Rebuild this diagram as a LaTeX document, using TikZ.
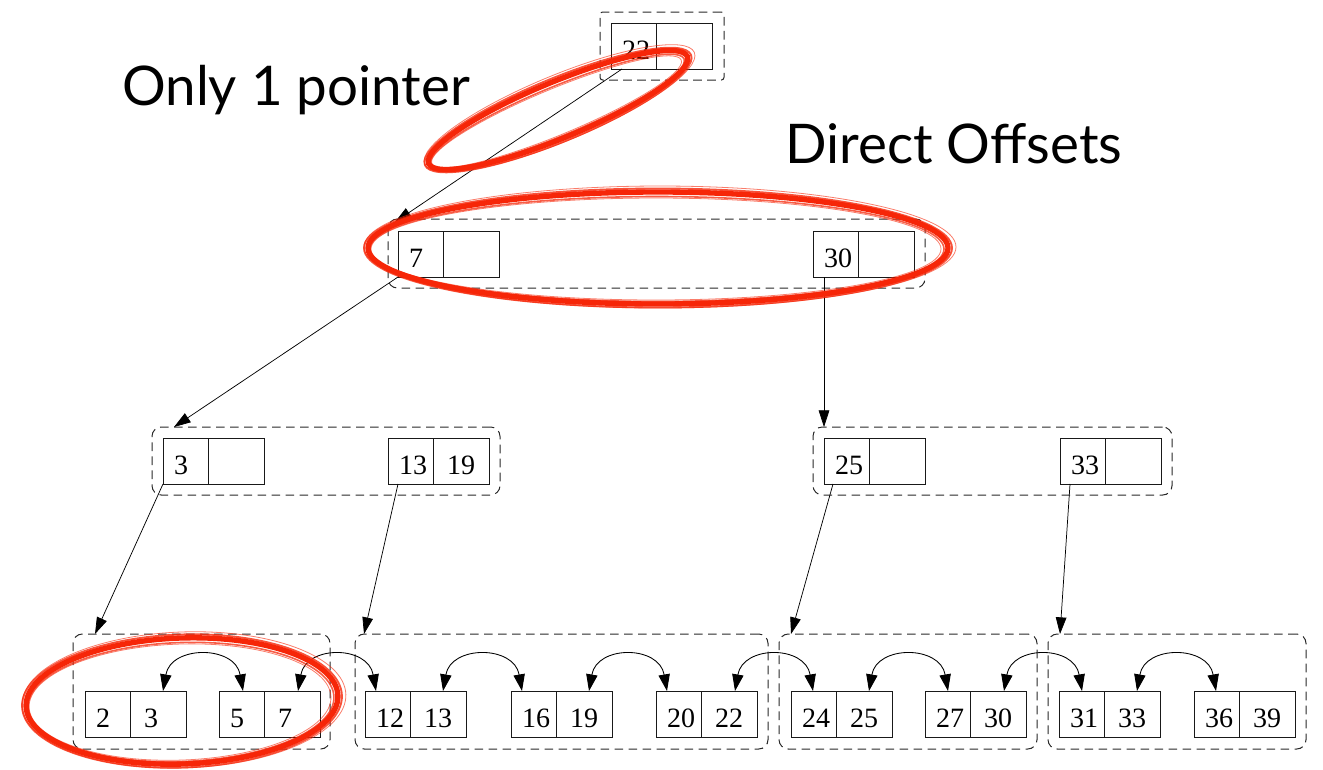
\documentclass[tikz,border=0pt]{standalone}
\usepackage{fontspec}
\setmainfont{Liberation Serif}
\newfontfamily\labelfont{Lato}
\usetikzlibrary{arrows.meta}
\definecolor{brushred}{RGB}{246,38,8}
\definecolor{dashgray}{RGB}{40,40,40}
\tikzset{
  keybox/.style={draw=black!90, line width=0.7pt, minimum width=75.75pt, minimum height=34.5pt, inner sep=0pt, outer sep=0pt, anchor=north west},
  cellsep/.style={draw=black!90, line width=0.7pt},
  keynum/.style={anchor=base west, inner sep=0pt, outer sep=0pt, font=\fontsize{21}{21}\selectfont},
  grpbox/.style={draw=dashgray, line width=0.75pt, dash pattern=on 6.5pt off 4pt, rounded corners=7pt, inner sep=0pt, outer sep=0pt, anchor=north west},
  tree/.style={draw=black, line width=0.55pt, -{Triangle[length=12.5pt,width=8pt]}},
  link/.style={draw=black, line width=0.65pt, {Triangle[length=12.5pt,width=8.5pt]}-{Triangle[length=12.5pt,width=8.5pt]}},
  biglabel/.style={anchor=base west, inner sep=0pt, font=\labelfont\fontsize{41}{41}\selectfont},
  brush/.style={draw=brushred, line cap=round},
}
\newcommand{\mykey}[5]{%
  \node[keybox] (#1) at (#2,#3) {};
  \draw[cellsep] ([xshift=33.75pt]#1.north west) -- ([xshift=33.75pt]#1.south west);
  \node[keynum] (#1L) at ([shift={(11,36)}]#1.north west) {#4};
  \node[keynum] (#1R) at ([shift={(59,36)}]#1.north west) {#5};
}
\newcommand{\mygroup}[6][]{%
  \node[grpbox, #1, minimum width={(#5-#3)*0.75pt}, minimum height={(#6-#4)*0.75pt}] (#2) at (#3,#4) {};
}
\newcommand{\brushellipse}[5]{%
  \begin{scope}[shift={(#1,#2)}, rotate=#5]
    \draw[brush, line width=4pt] (0,0) ellipse [x radius=#3, y radius=#4];
    \draw[brush, line width=1.4pt, opacity=.8] (0,0) ellipse [x radius=#3+4, y radius=#4+3.5];
    \draw[brush, line width=1.2pt, opacity=.75] (-1,1) ellipse [x radius=#3-3, y radius=#4-3.5];
    \draw[brush, line width=0.6pt, opacity=.6] (2,-1) ellipse [x radius=#3+6, y radius=#4+5];
    \draw[brush, line width=0.6pt, opacity=.6] (-2,1) ellipse [x radius=#3-5, y radius=#4-5];
  \end{scope}
}
\begin{document}
\begin{tikzpicture}[x=0.75pt,y=-0.75pt]
\useasboundingbox (0,0) rectangle (1323,769);

% groups
\mygroup[rounded corners=2pt]{gTop}{600}{12}{724}{80}
\mygroup{gL2}{388}{219}{925}{288}
\mygroup{gA}{152}{427}{500}{495}
\mygroup{gB}{813}{427}{1172}{495}
\mygroup{g1}{73}{634}{330}{749}
\mygroup{g2}{355}{634}{768}{749}
\mygroup{g3}{779}{634}{1037}{749}
\mygroup{g4}{1048}{634}{1306}{749}

% keys
\mykey{t22}{611}{23}{22}{}
\mykey{k7}{398}{231}{7}{}
\mykey{k30}{813}{231}{30}{}
\mykey{k3}{163}{438}{3}{}
\mykey{k13}{388}{438}{13}{19}
\mykey{k25}{824}{438}{25}{}
\mykey{k33}{1060}{438}{33}{}
\mykey{l2}{85}{691}{2}{3}
\mykey{l5}{219}{691}{5}{7}
\mykey{l12}{365}{691}{12}{13}
\mykey{l16}{511}{691}{16}{19}
\mykey{l20}{656}{691}{20}{22}
\mykey{l24}{791}{691}{24}{25}
\mykey{l27}{925}{691}{27}{30}
\mykey{l31}{1059}{691}{31}{33}
\mykey{l36}{1194}{691}{36}{39}

% tree pointers
\draw[tree] ([xshift=8.25pt]t22.south west) -- ([shift={(7,3)}]gL2.north west);
\draw[tree] (k7.south west) -- ([shift={(22,0)}]gA.north west);
\draw[tree] ([xshift=8.25pt]k30.south west) -- ([shift={(11,0)}]gB.north west);
\draw[tree] (k3.south west) -- ([shift={(22,0)}]g1.north west);
\draw[tree] ([xshift=7.5pt]k13.south west) -- ([shift={(9,0)}]g2.north west);
\draw[tree] ([xshift=6.75pt]k25.south west) -- ([shift={(12,0)}]g3.north west);
\draw[tree] ([xshift=7.5pt]k33.south west) -- ([shift={(12,0)}]g4.north west);

% sibling links
\draw[link] ([xshift=58.5pt]l2.north west) .. controls +(8,-46) and +(-8,-46) .. ([xshift=18pt]l5.north west);
\draw[link] ([xshift=59.25pt]l5.north west) .. controls +(8,-46) and +(-8,-46) .. ([xshift=8.25pt]l12.north west);
\draw[link] ([xshift=58.5pt]l12.north west) .. controls +(8,-46) and +(-8,-46) .. ([xshift=8.25pt]l16.north west);
\draw[link] ([xshift=58.5pt]l16.north west) .. controls +(8,-46) and +(-8,-46) .. ([xshift=8.25pt]l20.north west);
\draw[link] ([xshift=59.25pt]l20.north west) .. controls +(8,-46) and +(-8,-46) .. ([xshift=16.5pt]l24.north west);
\draw[link] ([xshift=58.5pt]l24.north west) .. controls +(8,-46) and +(-8,-46) .. ([xshift=17.25pt]l27.north west);
\draw[link] ([xshift=59.25pt]l27.north west) .. controls +(8,-46) and +(-8,-46) .. ([xshift=17.25pt]l31.north west);
\draw[link] ([xshift=58.5pt]l31.north west) .. controls +(8,-46) and +(-8,-46) .. ([xshift=16.5pt]l36.north west);

% labels
\node[biglabel] (lab1) at (122,105) {Only 1 pointer};
\node[biglabel] (lab2) at (785,163) {Direct Offsets};

% red annotations
\brushellipse{558}{110}{140}{28}{22.5}
\brushellipse{658}{248}{290}{56}{0}
\brushellipse{182}{701}{156}{63}{2}
\end{tikzpicture}
\end{document}
